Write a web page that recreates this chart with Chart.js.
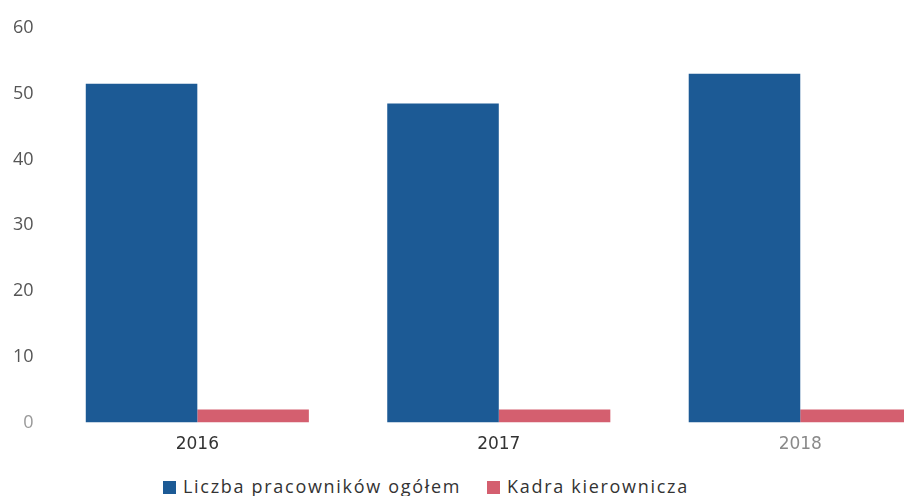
<!DOCTYPE html>
<html>
<head>
<meta charset="utf-8">
<script src="https://cdn.jsdelivr.net/npm/chart.js@4"></script>
<style>
    html, body { margin: 0; padding: 0; background: #fff; overflow: hidden; }
    #wrap { position: relative; width: 904px; height: 496px; overflow: hidden; }
    #box { position: absolute; left: 0; top: 4px; width: 960px; height: 463px; }
    .lg { position: absolute; top: 474px; font-family: 'Open Sans', sans-serif; font-size: 18px; letter-spacing: 1.7px; color: #333; white-space: nowrap; }
    .lg span.sw { display: inline-block; width: 13px; height: 13px; margin-right: 7px; vertical-align: -1px; }
</style>
</head>
<body>
<div id="wrap">
    <div id="box"><canvas id="employeesChart"></canvas></div>
    <div id="lg0" class="lg" style="left:163px"></div>
    <div id="lg1" class="lg" style="left:487px"></div>
</div>
<script>
const years = ['2016', '2017', '2018'];
const totalStaff = [51.5, 48.5, 53];
const management = [2, 2, 2];
const yTicks = [0, 10, 20, 30, 40, 50, 60];
const seriesNames = ['Liczba pracowników ogółem', 'Kadra kierownicza'];
const seriesColors = ['#1c5a95', '#d45f6f'];

const ctx = document.getElementById('employeesChart').getContext('2d');
const employeesChart = new Chart(ctx, {
    type: 'bar',
    data: {
        labels: years,
        datasets: [
            {
                label: seriesNames[0],
                data: totalStaff,
                backgroundColor: seriesColors[0],
                borderWidth: 0,
                categoryPercentage: 0.74,
                barPercentage: 1.0
            },
            {
                label: seriesNames[1],
                data: management,
                backgroundColor: seriesColors[1],
                borderWidth: 0,
                categoryPercentage: 0.74,
                barPercentage: 1.0
            }
        ]
    },
    options: {
        responsive: true,
        maintainAspectRatio: false,
        animation: false,
        layout: { padding: { left: 0, right: 9, top: 23, bottom: 0 } },
        plugins: {
            legend: { display: false },
            tooltip: { enabled: false }
        },
        scales: {
            x: {
                grid: { display: false, drawTicks: false },
                border: { display: false },
                ticks: {
                    padding: 12,
                    font: { family: 'DejaVu Sans', size: 17 },
                    color: (c) => c.index === 2 ? '#8a8a8a' : '#333'
                }
            },
            y: {
                min: yTicks[0],
                max: yTicks[yTicks.length - 1],
                afterBuildTicks: (axis) => { axis.ticks = yTicks.map(v => ({ value: v })); },
                grid: { display: false, drawTicks: false },
                border: { display: false },
                ticks: {
                    padding: 13,
                    font: { family: 'Open Sans', size: 18 },
                    color: (c) => c.tick && c.tick.value === 0 ? '#999' : '#555'
                }
            }
        }
    }
});

// legend drawn as html text
seriesNames.forEach((n, i) => {
    document.getElementById('lg' + i).innerHTML =
        '<span class="sw" style="background:' + seriesColors[i] + '"></span>' + n;
});
</script>
</body>
</html>
